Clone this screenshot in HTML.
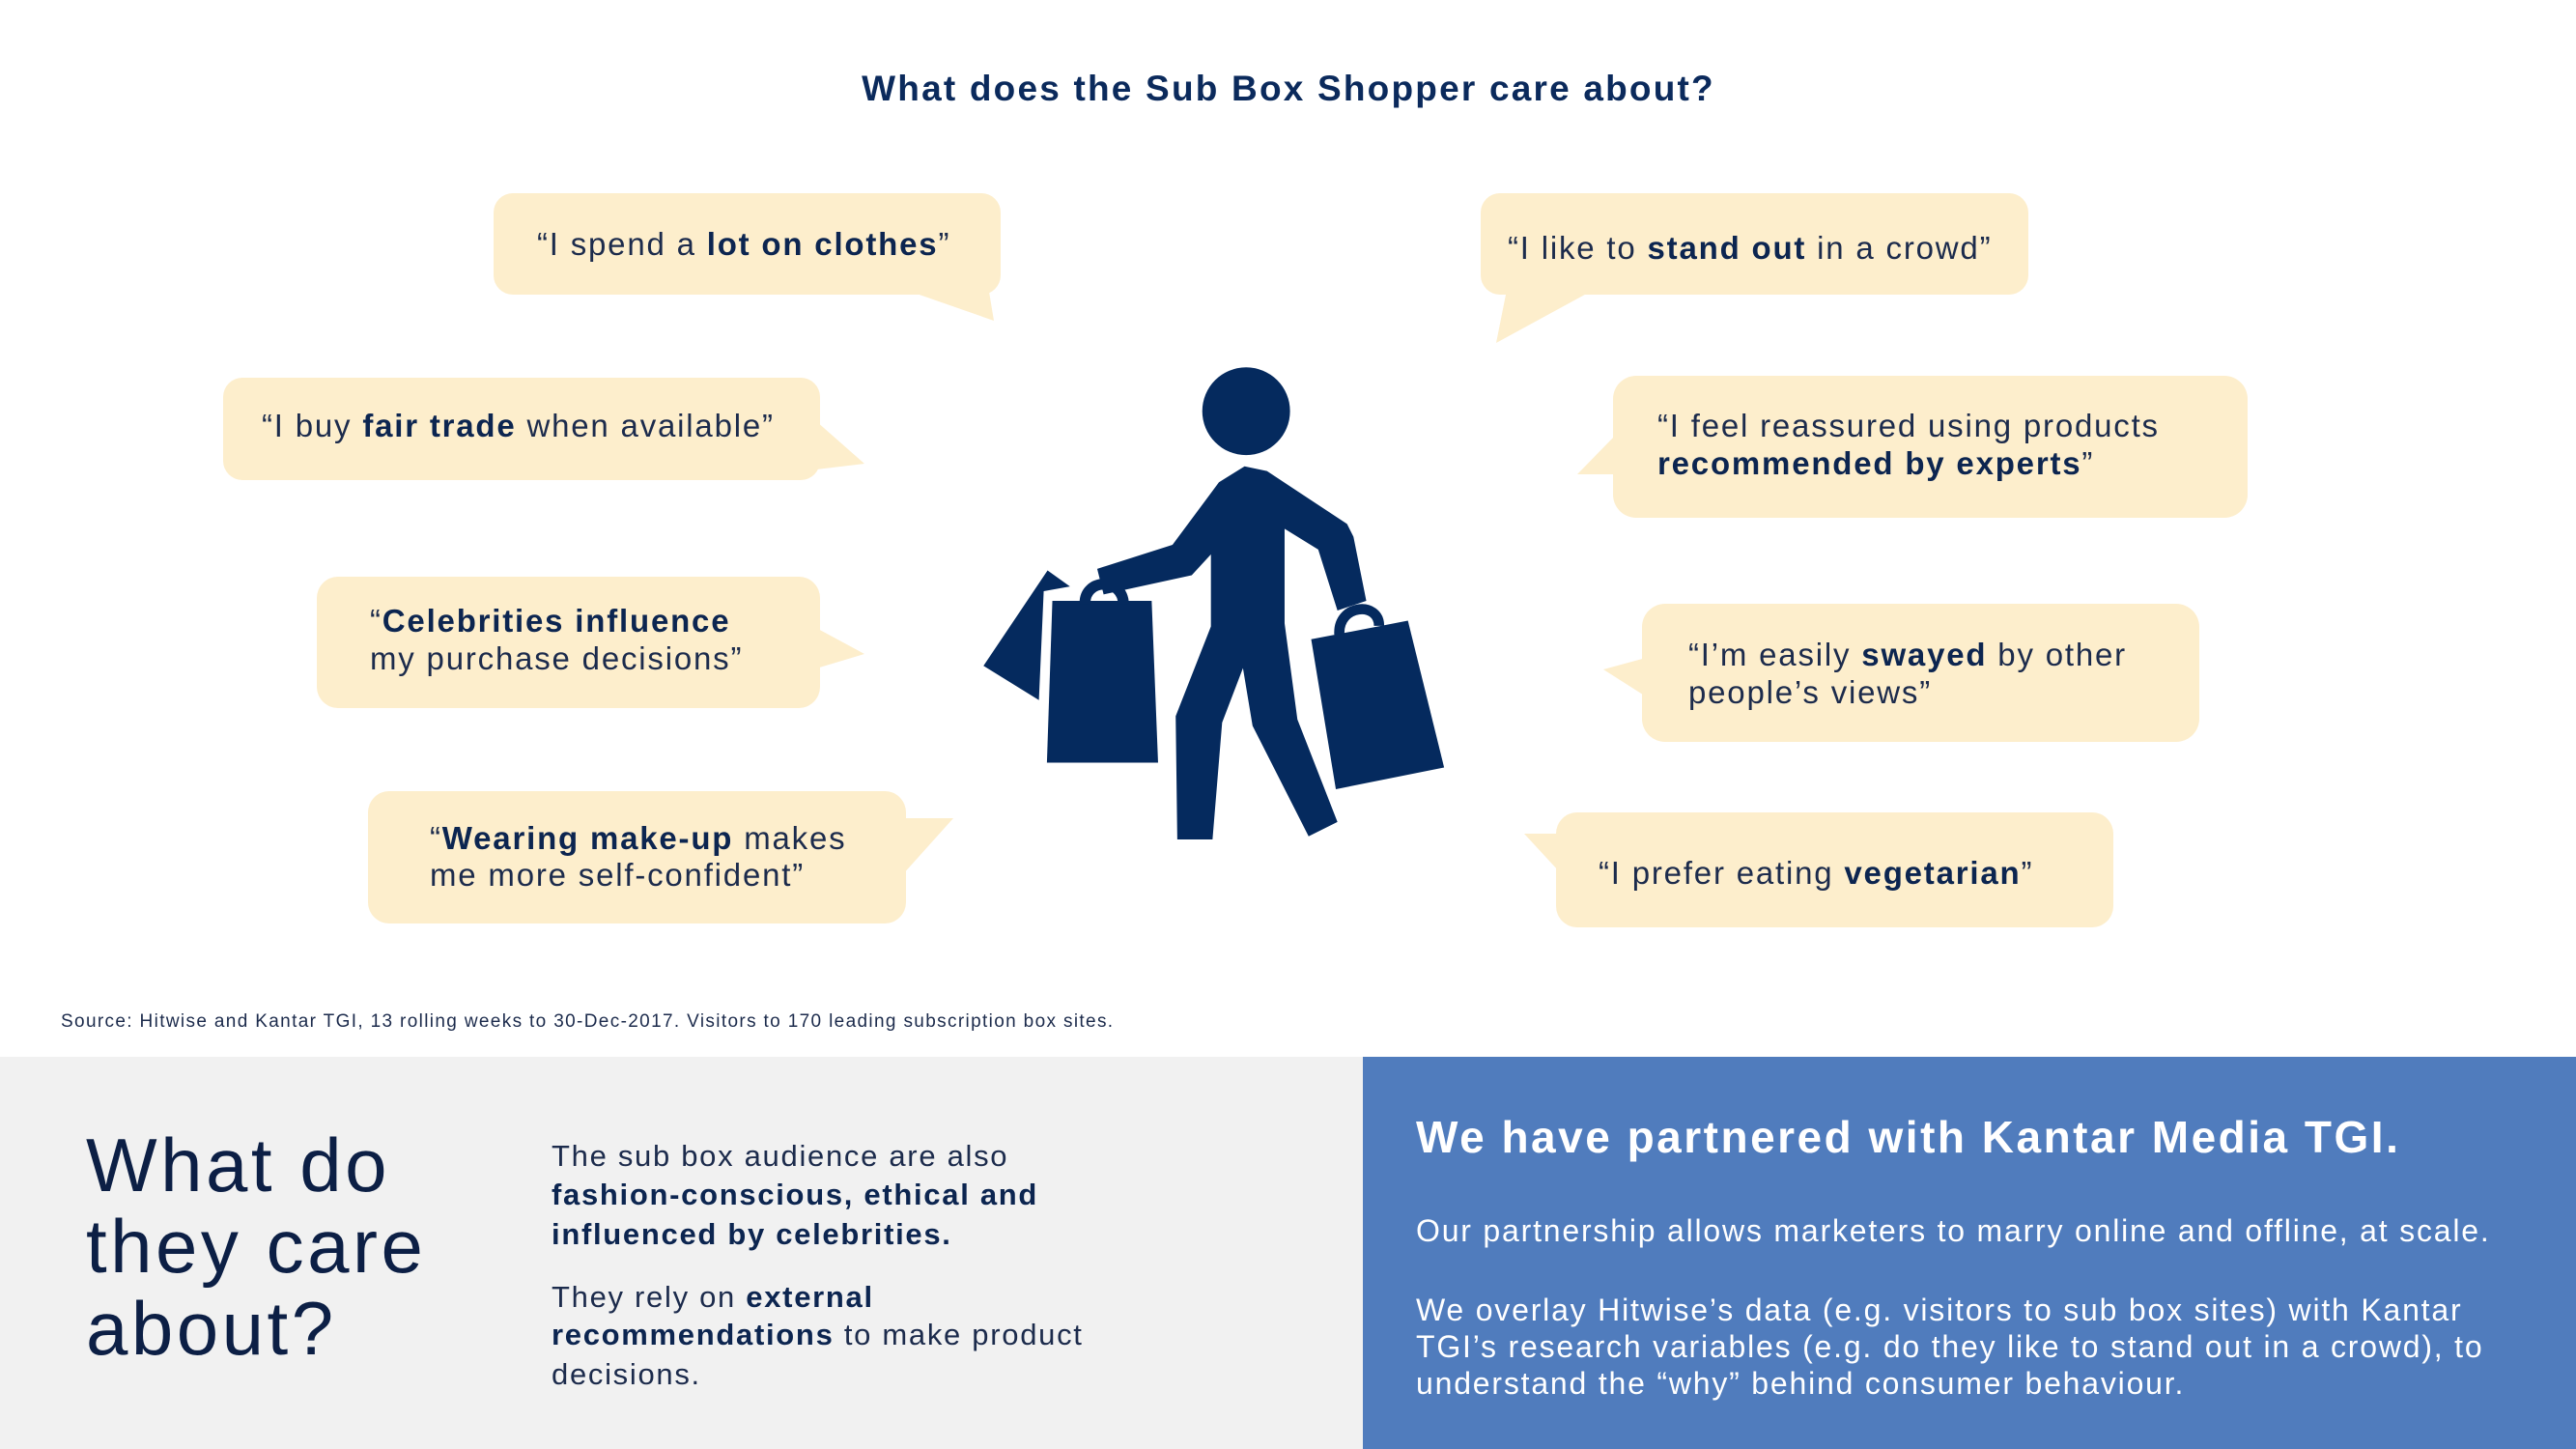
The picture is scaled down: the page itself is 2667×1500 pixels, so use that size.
<!DOCTYPE html>
<html><head><meta charset="utf-8"><style>
html,body{margin:0;padding:0;background:#fff;}
svg{display:block;}
text{font-family:"Liberation Sans",sans-serif;}
</style></head><body>
<svg width="2667" height="1500" viewBox="0 0 2667 1500" xmlns="http://www.w3.org/2000/svg">
<rect width="2667" height="1500" fill="#fff"/>
<text x="1334" y="104" text-anchor="middle" font-size="37" font-weight="bold" fill="#0b2a5c" letter-spacing="2.2">What does the Sub Box Shopper care about?</text>

<g fill="#fdeecc">
 <rect x="511" y="200" width="525" height="105" rx="20"/>
 <polygon points="946,303 1029,332 1022,290"/>
 <rect x="231" y="391" width="618" height="106" rx="20"/>
 <polygon points="845,436 895,480 845,486"/>
 <rect x="328" y="597" width="521" height="136" rx="22"/>
 <polygon points="845,650 895,677 845,692"/>
 <rect x="381" y="819" width="557" height="137" rx="22"/>
 <polygon points="934,847 987,847 934,906"/>
 <rect x="1533" y="200" width="567" height="105" rx="20"/>
 <polygon points="1560,300 1549,355 1650,300"/>
 <rect x="1670" y="389" width="657" height="147" rx="24"/>
 <polygon points="1674,449 1633,491 1674,491"/>
 <rect x="1700" y="625" width="577" height="143" rx="24"/>
 <polygon points="1704,681 1660,693 1704,721"/>
 <rect x="1611" y="841" width="577" height="119" rx="22"/>
 <polygon points="1578,863 1615,863 1615,903"/>
</g>

<g font-size="33" fill="#1c2b4c" letter-spacing="1.8">
 <text x="556" y="264">“I spend a <tspan font-weight="bold" fill="#0c2550">lot on clothes</tspan>”</text>
 <text x="271" y="452">“I buy <tspan font-weight="bold" fill="#0c2550">fair trade</tspan> when available”</text>
 <text x="383" y="654">“<tspan font-weight="bold" fill="#0c2550">Celebrities influence</tspan></text>
 <text x="383" y="693">my purchase decisions”</text>
 <text x="445" y="879">“<tspan font-weight="bold" fill="#0c2550">Wearing make-up</tspan> makes</text>
 <text x="445" y="917">me more self-confident”</text>
 <text x="1561" y="268">“I like to <tspan font-weight="bold" fill="#0c2550">stand out</tspan> in a crowd”</text>
 <text x="1716" y="452">“I feel reassured using products</text>
 <text x="1716" y="491" font-weight="bold" fill="#0c2550">recommended by experts<tspan font-weight="normal" fill="#1c2b4c">”</tspan></text>
 <text x="1748" y="689">“I’m easily <tspan font-weight="bold" fill="#0c2550">swayed</tspan> by other</text>
 <text x="1748" y="728">people’s views”</text>
 <text x="1655" y="915">“I prefer eating <tspan font-weight="bold" fill="#0c2550">vegetarian</tspan>”</text>
</g>

<svg x="1000" y="360" width="520" height="520" viewBox="0 0 1568 1568">
 <g fill="#052a5e">
  <circle cx="875" cy="198" r="137"/>
  <polygon points="255,695 325,745 243,760 228,1100 55,993"/>
  <polygon points="270,790 580,790 600,1295 253,1295"/>
  <path d="M372 800 C368 720, 490 715, 492 800" fill="none" stroke="#052a5e" stroke-width="34"/>
  <polygon points="410,690 645,615 790,420 870,370 940,385 1190,550 1210,590 1250,790 1160,820 1100,630 995,565 995,860 1035,1160 1160,1480 1070,1525 895,1180 865,1000 800,1170 770,1535 660,1535 655,1150 765,870 765,645 705,710 430,770"/>
  <polygon points="1078,910 1380,852 1493,1310 1155,1378"/>
  <path d="M1166 895 C1160 800, 1290 790, 1290 868" fill="none" stroke="#052a5e" stroke-width="32"/>
 </g>
</svg>

<text x="63" y="1063" font-size="19" fill="#1c2b4c" letter-spacing="1.35">Source: Hitwise and Kantar TGI, 13 rolling weeks to 30-Dec-2017. Visitors to 170 leading subscription box sites.</text>

<rect x="0" y="1094" width="1411" height="406" fill="#f1f1f1"/>
<rect x="1411" y="1094" width="1256" height="406" fill="#507cbd"/>

<g font-size="78" fill="#0c1f45" letter-spacing="3.5">
 <text x="89" y="1233">What do</text>
 <text x="89" y="1317">they care</text>
 <text x="89" y="1402">about?</text>
</g>
<g font-size="31" fill="#1c2b4c" letter-spacing="1.7">
 <text x="571" y="1207">The sub box audience are also</text>
 <text x="571" y="1247" font-weight="bold" fill="#0c2550">fashion-conscious, ethical and</text>
 <text x="571" y="1288" font-weight="bold" fill="#0c2550">influenced by celebrities.</text>
 <text x="571" y="1353">They rely on <tspan font-weight="bold" fill="#0c2550">external</tspan></text>
 <text x="571" y="1392"><tspan font-weight="bold" fill="#0c2550">recommendations</tspan> to make product</text>
 <text x="571" y="1433">decisions.</text>
</g>

<text x="1466" y="1193" font-size="46" font-weight="bold" fill="#fff" letter-spacing="2.5">We have partnered with Kantar Media TGI.</text>
<g font-size="32" fill="#fff" letter-spacing="1.8">
 <text x="1466" y="1285">Our partnership allows marketers to marry online and offline, at scale.</text>
 <text x="1466" y="1367">We overlay Hitwise’s data (e.g. visitors to sub box sites) with Kantar</text>
 <text x="1466" y="1405">TGI’s research variables (e.g. do they like to stand out in a crowd), to</text>
 <text x="1466" y="1443">understand the “why” behind consumer behaviour.</text>
</g>
</svg>
</body></html>
